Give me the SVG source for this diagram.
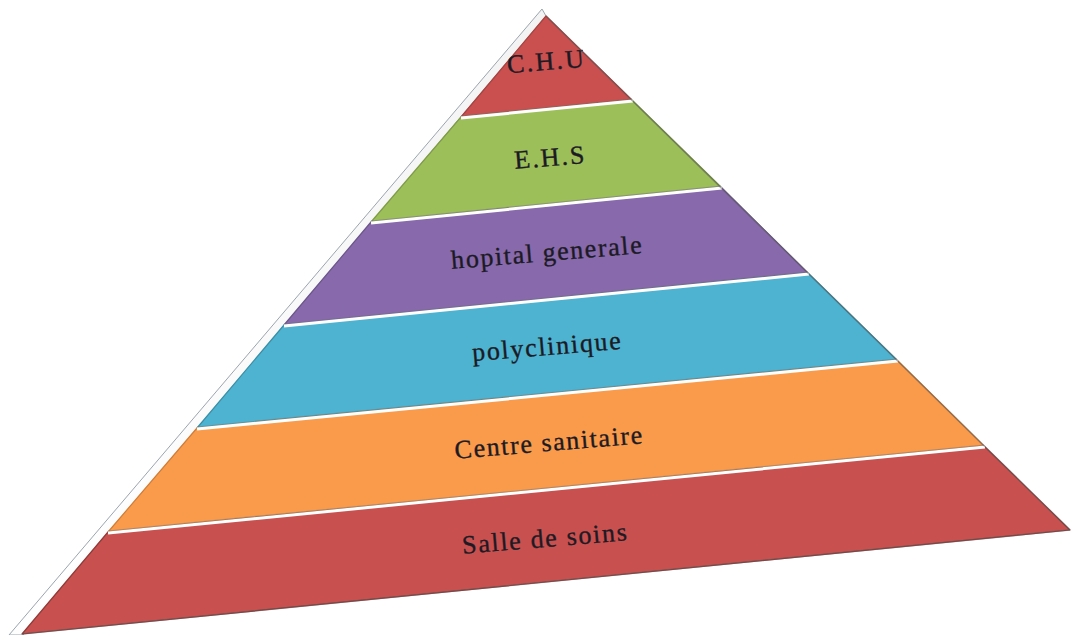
<svg xmlns="http://www.w3.org/2000/svg" width="1073" height="635" viewBox="0 0 1073 635">
<defs>
<linearGradient id="bevel" x1="0" y1="0" x2="1" y2="0.8">
<stop offset="0" stop-color="#a9b3bc"/>
<stop offset="0.5" stop-color="#ffffff"/>
<stop offset="1" stop-color="#c9c9c9"/>
</linearGradient>
</defs>
<style>
.band{stroke-width:1.2;stroke-linejoin:round}
.sep{stroke:#ffffff;stroke-width:3;fill:none}
.shadow{stroke:#6d6d6d;stroke-opacity:0.45;stroke-width:1.2;fill:none}
.lbl{font-family:"Liberation Serif","Times New Roman",serif;font-size:26px;fill:#1c1a24;stroke:#1c1a24;stroke-width:0.35;text-anchor:middle}
</style>
<rect width="1073" height="635" fill="#ffffff"/>
<polygon points="542,9 9,635 23,635 546,16" fill="url(#bevel)" stroke="#9aa5ae" stroke-width="1"/>
<g id="band-chu"><polygon class="band" points="546,16 632,100 461,117" fill="#c9504f" stroke="#a84240"/><text class="lbl" x="546" y="70" textLength="77" lengthAdjust="spacing" transform="rotate(-4.7 546 70)">C.H.U</text></g>
<g id="band-ehs"><polygon class="band" points="461,117 632,100 721,187 371,222" fill="#9dbf5a" stroke="#7f9c47"/><text class="lbl" x="550" y="166" textLength="70" lengthAdjust="spacing" transform="rotate(-4.7 550 166)">E.H.S</text></g>
<g id="band-hopital"><polygon class="band" points="371,222 721,187 808,273 284,325" fill="#8769ac" stroke="#6b548a"/><text class="lbl" x="547" y="261" textLength="191" lengthAdjust="spacing" transform="rotate(-4.7 547 261)">hopital generale</text></g>
<g id="band-polyclinique"><polygon class="band" points="284,325 808,273 897,360 197,428" fill="#4db3d0" stroke="#3a8ea6"/><text class="lbl" x="547" y="355" textLength="149" lengthAdjust="spacing" transform="rotate(-4.7 547 355)">polyclinique</text></g>
<g id="band-centre"><polygon class="band" points="197,428 897,360 984,446 108,532" fill="#f99b4a" stroke="#cf7c36"/><text class="lbl" x="549" y="451" textLength="188" lengthAdjust="spacing" transform="rotate(-4.7 549 451)">Centre sanitaire</text></g>
<g id="band-salle"><polygon class="band" points="108,532 984,446 1070,530 22,634" fill="#c8514f" stroke="#8f3a38"/><text class="lbl" x="545" y="547" textLength="165" lengthAdjust="spacing" transform="rotate(-4.7 545 547)">Salle de soins</text></g>
<g id="separators">
<line class="shadow" x1="461" y1="116" x2="632" y2="99"/>
<line class="sep" x1="461" y1="118" x2="633" y2="101"/>
<line class="shadow" x1="371" y1="221" x2="721" y2="186"/>
<line class="sep" x1="371" y1="223" x2="722" y2="188"/>
<line class="shadow" x1="284" y1="324" x2="808" y2="272"/>
<line class="sep" x1="284" y1="326" x2="809" y2="274"/>
<line class="shadow" x1="197" y1="427" x2="897" y2="359"/>
<line class="sep" x1="197" y1="429" x2="898" y2="361"/>
<line class="shadow" x1="108" y1="531" x2="984" y2="445"/>
<line class="sep" x1="108" y1="533" x2="985" y2="447"/>
<line x1="546" y1="16" x2="1070" y2="530" stroke="#5a5a5a" stroke-opacity="0.5" stroke-width="1.5"/>
<line x1="22" y1="634" x2="1070" y2="530" stroke="#5a5a5a" stroke-opacity="0.5" stroke-width="1.5"/>
</g>
</svg>
